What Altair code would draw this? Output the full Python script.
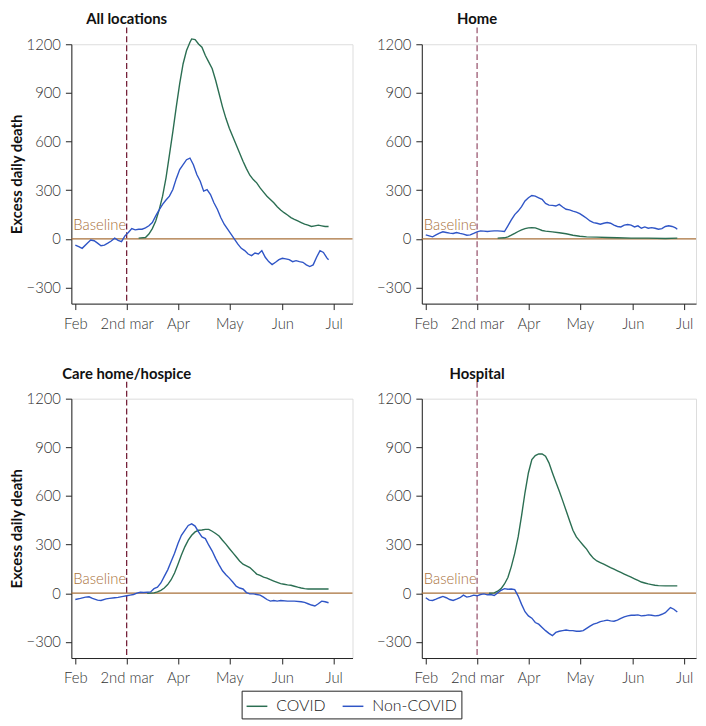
import altair as alt
import pandas as pd

START = pd.Timestamp("2020-02-01")

# ---------------- data (day offsets from 1 Feb 2020, excess daily deaths) ----------------
all_nc_days = [0, 2, 4, 7, 9, 11, 13, 15, 17, 19, 21, 23, 25, 27, 29, 31, 33, 35, 37, 39, 41, 43, 45, 47, 49,
               51, 53, 55, 57, 59, 61, 63, 65, 67, 69, 71, 73, 75, 77, 79, 81, 83, 85, 87, 89, 91, 93, 95, 97,
               99, 101, 103, 105, 107, 109, 111, 113, 115, 117, 119, 121, 123, 125, 127, 129, 131, 133, 135,
               137, 139, 141, 143, 145, 147, 148]
all_nc = [-39, -49, -59, -27, -8, -12, -27, -43, -39, -27, -14, 4, -10, -18, 18, 39, 63, 55, 59, 59, 67, 80,
          100, 141, 178, 212, 239, 263, 304, 371, 427, 457, 488, 498, 457, 396, 355, 294, 304, 273, 222, 182,
          131, 90, 59, 29, -2, -33, -59, -73, -94, -104, -88, -94, -73, -114, -141, -159, -145, -129, -120,
          -124, -129, -141, -135, -141, -145, -161, -171, -161, -114, -73, -84, -118, -129]
all_c_days = [37, 41, 43, 45, 47, 49, 51, 53, 55, 57, 59, 61, 63, 65, 67, 68, 70, 72, 74, 76, 78, 80, 82, 84,
              86, 88, 90, 92, 94, 96, 98, 100, 102, 104, 106, 108, 110, 112, 114, 116, 118, 120, 122, 124,
              126, 128, 130, 132, 134, 136, 138, 140, 142, 144, 146, 148]
all_c = [4, 8, 29, 63, 110, 178, 263, 376, 518, 661, 814, 957, 1080, 1161, 1212, 1233, 1229, 1202, 1182,
         1131, 1090, 1049, 978, 896, 814, 743, 682, 631, 580, 529, 478, 433, 392, 365, 345, 314, 288, 263,
         243, 222, 198, 178, 161, 147, 131, 120, 110, 100, 90, 84, 76, 80, 84, 80, 76, 76]

home_nc_days = list(range(0, 148, 2)) + [147]
home_nc = [24, 18, 12, 24, 35, 43, 39, 35, 33, 39, 33, 29, 22, 24, 33, 43, 49, 47, 45, 47, 49, 49, 47, 45,
           80, 116, 149, 171, 198, 233, 253, 267, 263, 253, 243, 218, 208, 206, 202, 212, 196, 182, 178, 171,
           165, 155, 141, 127, 110, 100, 96, 90, 96, 100, 96, 84, 76, 73, 84, 88, 84, 73, 80, 65, 73, 65, 69,
           65, 59, 63, 76, 80, 76, 67, 59]
home_c_days = [42, 46, 48, 50, 52, 54, 56, 58, 60, 62, 64, 66, 68, 70, 74, 78, 82, 86, 90, 94, 100, 106,
               112, 120, 130, 140, 147]
home_c = [4, 6, 12, 22, 33, 45, 55, 63, 67, 69, 67, 59, 51, 47, 43, 37, 31, 22, 16, 12, 10, 8, 6, 4, 4, 2, 4]

care_nc_days = [0, 3, 6, 8, 10, 13, 15, 18, 20, 23, 25, 28, 30, 32, 34, 36, 38, 40, 42, 44, 46, 48, 50, 52,
                54, 56, 58, 60, 62, 64, 66, 68, 70, 72, 74, 76, 78, 80, 82, 84, 86, 88, 90, 92, 94, 96, 98,
                100, 102, 104, 106, 108, 110, 112, 114, 116, 118, 120, 124, 128, 132, 134, 136, 138, 140,
                142, 144, 146, 148]
care_nc = [-39, -32, -24, -22, -32, -43, -45, -35, -32, -28, -26, -20, -16, -12, -8, 0, 6, 4, 6, 8, 28, 37,
           63, 104, 144, 195, 246, 307, 357, 388, 418, 428, 414, 378, 347, 337, 296, 260, 215, 175, 138, 114,
           93, 69, 43, 32, 26, 4, -4, -4, -8, -12, -24, -39, -49, -45, -49, -45, -49, -49, -53, -57, -65,
           -73, -79, -65, -49, -53, -59]
care_c_days = [42, 46, 48, 50, 52, 54, 56, 58, 60, 62, 64, 66, 68, 70, 72, 74, 76, 78, 80, 82, 84, 86, 88,
               90, 92, 94, 96, 98, 100, 102, 104, 106, 108, 110, 112, 114, 116, 118, 120, 122, 124, 126, 128,
               130, 132, 134, 136, 140, 144, 148]
care_c = [0, 2, 8, 18, 32, 53, 83, 124, 179, 236, 286, 327, 357, 378, 388, 390, 394, 394, 382, 368, 353, 327,
          303, 276, 250, 225, 199, 179, 169, 158, 138, 118, 110, 99, 93, 83, 75, 67, 59, 55, 51, 49, 43, 37,
          32, 28, 26, 26, 26, 26]

hosp_nc_days = list(range(0, 143, 2)) + [143, 145, 147]
hosp_nc = [-28, -43, -45, -37, -28, -20, -28, -39, -45, -37, -28, -12, -24, -20, -12, -16, -8, -4, -10, -8,
           -14, 2, 18, 28, 24, 26, 22, -18, -69, -114, -140, -154, -181, -191, -211, -231, -248, -262, -242,
           -235, -231, -227, -231, -231, -235, -235, -231, -217, -203, -191, -185, -175, -171, -166, -171,
           -173, -166, -156, -146, -140, -136, -136, -134, -140, -138, -134, -136, -140, -138, -130, -120,
           -99, -89, -99, -116]
hosp_c_days = [37, 40, 42, 44, 46, 48, 50, 52, 54, 56, 58, 60, 62, 64, 66, 68, 70, 72, 74, 76, 78, 80, 82,
               84, 86, 88, 90, 92, 94, 96, 98, 100, 102, 104, 106, 108, 110, 112, 114, 116, 118, 120, 122,
               124, 126, 128, 130, 132, 134, 136, 140, 144, 147]
hosp_c = [0, 2, 12, 28, 57, 97, 164, 246, 347, 479, 621, 743, 824, 849, 859, 859, 845, 804, 743, 686, 631,
          571, 510, 449, 388, 347, 321, 296, 272, 240, 215, 199, 189, 179, 169, 158, 148, 138, 128, 118, 108,
          99, 89, 79, 69, 63, 57, 53, 49, 47, 45, 45, 45]

series_names = ["COVID", "Non-COVID"]
series_colors = ["#2b6e52", "#2f55c6"]
y_ticks = [-300, 0, 300, 600, 900, 1200]
tick_dates = ["2020-02-01", "2020-03-02", "2020-04-01", "2020-05-01", "2020-06-01", "2020-07-01"]
lockdown_date = "2020-03-02"

FONT = "Lato"
W_LEFT, W_RIGHT, H = 284, 277, 262
PX_DAYS = 151 / 261.0
X0 = START - pd.Timedelta(days=4 * PX_DAYS)


def to_rows(days, vals, series):
    return [{"date": (START + pd.Timedelta(days=d)).strftime("%Y-%m-%d"), "value": v, "series": series}
            for d, v in zip(days, vals)]


def panel(title, nc_days, nc_vals, c_days, c_vals, is_left, dash_color):
    width = W_LEFT if is_left else W_RIGHT
    x_end = X0 + pd.Timedelta(days=width * PX_DAYS)
    df = pd.DataFrame(to_rows(c_days, c_vals, "COVID") + to_rows(nc_days, nc_vals, "Non-COVID"))

    x_enc = alt.X(
        "date:T",
        scale=alt.Scale(type="utc", domain=[X0.isoformat(), x_end.isoformat()]),
        axis=alt.Axis(
            values=[alt.DateTime(year=2020, month=int(t[5:7]), date=int(t[8:10]), utc=True) for t in tick_dates],
            labelExpr="utcmonth(datum.value) == 2 ? '2nd mar' : utcFormat(datum.value, '%b')",
            title=None, grid=False, domainColor="#222", tickColor="#222", tickSize=6,
            labelFont=FONT, labelFontSize=15, labelFontWeight=300, labelColor="#333", labelPadding=7,
        ),
    )
    y_enc = alt.Y(
        "value:Q",
        scale=alt.Scale(domain=[-400, 1200], nice=False, zero=False),
        axis=alt.Axis(
            values=y_ticks, format="d", title="Excess daily death" if is_left else None,
            titleFont=FONT, titleFontSize=15, titleFontWeight="bold", titleColor="#111", titlePadding=2,
            grid=False, domainColor="#222", tickColor="#222", tickSize=6,
            labelFont=FONT, labelFontSize=15, labelFontWeight=300, labelColor="#333", labelPadding=5,
        ),
    )

    lines = alt.Chart(df).mark_line(strokeWidth=1.4, clip=False).encode(
        x=x_enc, y=y_enc,
        color=alt.Color(
            "series:N", scale=alt.Scale(domain=series_names, range=series_colors),
            legend=alt.Legend(
                title=None, orient="none", direction="horizontal", legendX=172, legendY=653,
                symbolType="stroke", symbolSize=440, symbolStrokeWidth=1.5, strokeColor="#222",
                padding=4, labelFont=FONT, labelFontSize=16, labelFontWeight=300, labelColor="#222",
                columnPadding=14, labelOffset=8,
            ),
        ),
        detail="series:N",
    )

    base_df = pd.DataFrame({"date": [START.strftime("%Y-%m-%d")], "value": [0], "label": ["Baseline"]})
    baseline = alt.Chart(base_df).mark_rule(color="#a8703a", strokeWidth=1.3).encode(y=y_enc)
    base_text = alt.Chart(base_df).mark_text(
        align="left", baseline="middle", dx=-2, dy=-14, color="#a8703a",
        font=FONT, fontSize=15, fontWeight=300,
    ).encode(x=x_enc, y=y_enc, text="label:N")

    lock_df = pd.DataFrame({"date": [lockdown_date], "value": [0], "label": [title]})
    dash = alt.Chart(lock_df).mark_rule(color=dash_color, strokeWidth=1.3, strokeDash=[6, 3]).encode(
        x=x_enc, y=alt.value(-17), y2=alt.value(H)
    )
    ttl = alt.Chart(lock_df).mark_text(
        baseline="middle", align="center", font=FONT, fontSize=15, fontWeight="bold", color="#111"
    ).encode(x=x_enc, y=alt.value(-25), text="label:N")

    return alt.layer(baseline, dash, lines, base_text, ttl).properties(width=width, height=H)


p1 = panel("All locations", all_nc_days, all_nc, all_c_days, all_c, True, "#76223a")
p2 = panel("Home", home_nc_days, home_nc, home_c_days, home_c, False, "#9c5a72")
p3 = panel("Care home/hospice", care_nc_days, care_nc, care_c_days, care_c, True, "#76223a")
p4 = panel("Hospital", hosp_nc_days, hosp_nc, hosp_c_days, hosp_c, False, "#9c5a72")

chart = alt.concat(
    p1, p2, p3, p4, columns=2, spacing=alt.RowColnumber(row=96, column=70), bounds="flush"
).resolve_scale(x="independent", y="independent").properties(
    padding=0
).configure_view(stroke=None).configure(font=FONT)

chart.save("out.html", embed_options={"renderer": "svg", "actions": False})
